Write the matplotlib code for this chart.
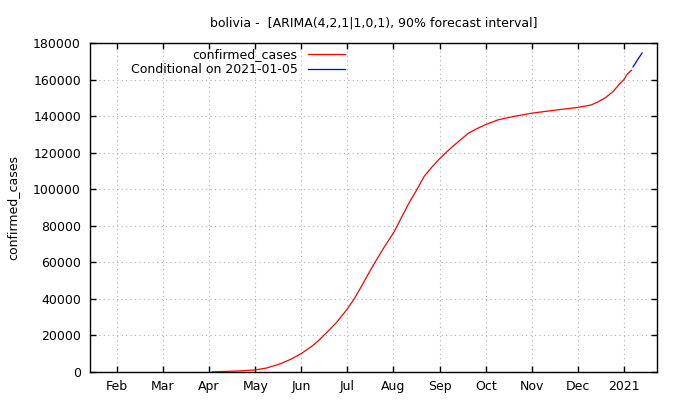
import matplotlib
matplotlib.use("Agg")
import matplotlib.pyplot as plt
import pandas as pd

# ---- data ----
obs_dates = ["2020-04-04", "2020-04-12", "2020-04-22", "2020-05-02", "2020-05-10",
             "2020-05-19", "2020-05-26", "2020-06-02", "2020-06-09", "2020-06-13",
             "2020-06-18", "2020-06-25", "2020-07-02", "2020-07-07", "2020-07-12",
             "2020-07-16", "2020-07-20", "2020-07-26", "2020-08-02", "2020-08-07",
             "2020-08-12", "2020-08-17", "2020-08-22", "2020-08-27", "2020-09-01",
             "2020-09-06", "2020-09-10", "2020-09-15", "2020-09-20", "2020-09-25",
             "2020-10-02", "2020-10-10", "2020-10-20", "2020-11-01", "2020-11-15",
             "2020-12-01", "2020-12-10", "2020-12-15", "2020-12-20", "2020-12-25",
             "2020-12-29", "2021-01-01", "2021-01-03", "2021-01-06"]
confirmed_cases = [130, 300, 600, 1100, 2200,
                   4500, 7000, 10200, 14200, 17000,
                   21100, 27000, 34200, 40300, 47500,
                   53500, 59300, 67500, 76500, 84500,
                   92500, 99500, 107000, 112000, 116500,
                   120500, 123500, 127000, 130500, 132800,
                   135500, 138000, 139800, 141600, 143100,
                   144700, 146000, 147800, 150200, 153600,
                   157500, 160000, 162800, 165100]

fc_dates = ["2021-01-07", "2021-01-08", "2021-01-09", "2021-01-10",
            "2021-01-11", "2021-01-12", "2021-01-13"]
forecast = [166900, 168200, 169500, 170800, 172100, 173300, 174600]

tick_labels = ["Feb", "Mar", "Apr", "May", "Jun", "Jul", "Aug", "Sep", "Oct",
               "Nov", "Dec", "2021"]
y_ticks = [0, 20000, 40000, 60000, 80000, 100000, 120000, 140000, 160000, 180000]

title = "bolivia -  [ARIMA(4,2,1|1,0,1), 90% forecast interval]"

plt.rcParams['font.family'] = ['DejaVu Sans']

fig = plt.figure(figsize=(6.8, 4.0), dpi=100)
ax = fig.add_axes([90/680, 28/400, 567/680, 329/400])

od = pd.to_datetime(obs_dates)
fd = pd.to_datetime(fc_dates)
ax.plot(od, confirmed_cases, color="#ff0000", lw=0.9, label="confirmed_cases")
ax.plot(fd, forecast, color="#0000ff", lw=0.9, label="Conditional on 2021-01-05")

ax.set_xlim(pd.Timestamp("2020-01-14 05:00"), pd.Timestamp("2021-01-22 20:00"))
ax.set_ylim(0, 180000)

# evenly spaced month ticks (as in the reference)
td = pd.date_range("2020-02-01", "2021-01-01", periods=len(tick_labels))
ax.set_xticks(td)
ax.set_xticklabels(tick_labels)
ax.set_yticks(y_ticks)
ax.set_yticklabels([str(v) for v in y_ticks])

ax.tick_params(axis='both', direction='in', length=4, width=1, labelsize=9,
               top=True, right=True, color='black', labelcolor='black')
ax.tick_params(axis='x', pad=6)
ax.tick_params(axis='y', pad=6.5)
for s in ax.spines.values():
    s.set_linewidth(1)
    s.set_color('black')

ax.grid(True, color='#b0b0b0', linestyle=(0, (1, 3)), linewidth=0.8)
ax.set_axisbelow(True)

ax.set_ylabel("confirmed_cases", fontsize=9, labelpad=10)
ax.set_title(title, fontsize=9, pad=12)

leg = ax.legend(loc='upper right', bbox_to_anchor=(255/567, 1 - 5/329),
                frameon=False, markerfirst=False, fontsize=9,
                handlelength=3.0, handletextpad=0.8, labelspacing=0.15,
                borderpad=0, borderaxespad=0)

fig.savefig("out.png", dpi=100)
